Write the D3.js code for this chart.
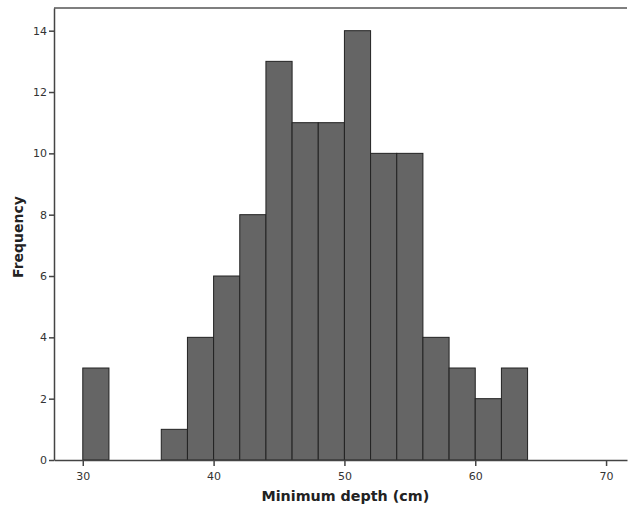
<!DOCTYPE html>
<html>
<head>
<meta charset="utf-8">
<script src="https://cdn.jsdelivr.net/npm/d3@7"></script>
<style>
  body { margin: 0; background: #fff; }
  text { font-family: "DejaVu Sans", sans-serif; }
</style>
</head>
<body>
<div id="main-container"></div>
<script>
// DATA
const binStarts = [30,32,34,36,38,40,42,44,46,48,50,52,54,56,58,60,62];
const binWidth = 2;
const counts = [3,0,0,1,4,6,8,13,11,11,14,10,10,4,3,2,3];
const xTicks = [30,40,50,60,70];
const yTicks = [0,2,4,6,8,10,12,14];

const margin = {top: 8, right: 1, bottom: 52, left: 54},
    width = 628 - margin.left - margin.right,
    height = 512 - margin.top - margin.bottom;

let svg = d3.select("#main-container")
    .append("svg")
        .attr("width", 628)
        .attr("height", 512)
    .append("g")
        .attr("transform", `translate(${margin.left}, ${margin.top})`);

let x = d3.scaleLinear().domain([27.8, 71.6]).range([0, width]);
let y = d3.scaleLinear().domain([0, 14.74]).range([height, 0]);

// frame top
svg.append("line")
    .attr("x1", 0).attr("x2", width)
    .attr("y1", 0).attr("y2", 0)
    .attr("stroke", "#555").attr("stroke-width", 1.5);

// bars
svg.selectAll("rect.bar")
    .data(binStarts)
    .enter()
    .append("rect")
        .attr("class", "bar")
        .attr("x", (d) => x(d))
        .attr("y", (d, i) => y(counts[i]))
        .attr("width", x(binWidth) - x(0))
        .attr("height", (d, i) => height - y(counts[i]))
        .attr("fill", "#656565")
        .attr("stroke", "#222")
        .attr("stroke-width", 1);

let xAxis = svg.append("g")
    .attr("transform", `translate(0, ${height})`)
    .call(d3.axisBottom(x).tickValues(xTicks).tickSize(6).tickSizeOuter(0).tickPadding(6));

let yAxis = svg.append("g")
    .call(d3.axisLeft(y).tickValues(yTicks).tickSize(5).tickSizeOuter(0).tickPadding(2));

[xAxis, yAxis].forEach((g) => {
    g.select(".domain").attr("stroke", "#444").attr("stroke-width", 1.5);
    g.selectAll(".tick line").attr("stroke", "#444").attr("stroke-width", 1.5);
    g.selectAll("text").attr("font-size", 11).attr("fill", "#333")
        .attr("font-family", "DejaVu Sans, sans-serif");
});

svg.append("text")
    .attr("x", x(50.07))
    .attr("y", height + 41)
    .attr("text-anchor", "middle")
    .attr("font-size", 14.3)
    .attr("font-weight", "bold")
    .attr("fill", "#222")
    .text("Minimum depth (cm)");

svg.append("text")
    .attr("transform", `translate(${-31}, ${height / 2 + 3}) rotate(-90)`)
    .attr("text-anchor", "middle")
    .attr("font-size", 14)
    .attr("font-weight", "bold")
    .attr("fill", "#222")
    .text("Frequency");
</script>
</body>
</html>
